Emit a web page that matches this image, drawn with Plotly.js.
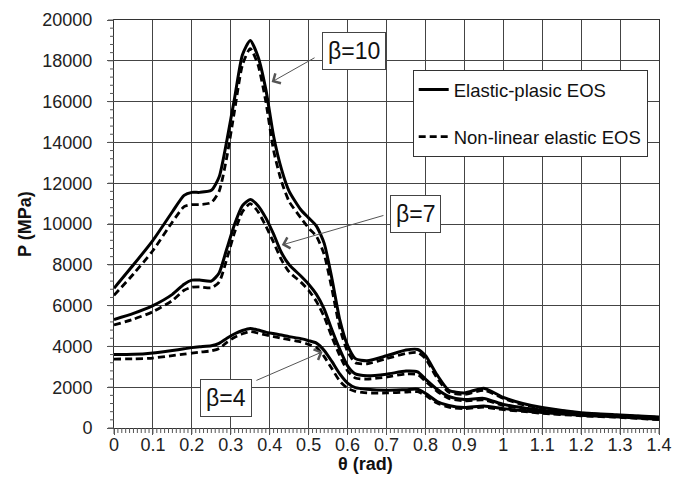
<!DOCTYPE html>
<html>
<head>
<meta charset="utf-8">
<script src="https://cdn.plot.ly/plotly-3.0.1.min.js"></script>
<style>html,body{margin:0;padding:0;background:#fff;}#chart{width:686px;height:482px;}</style>
</head>
<body>
<div id="chart"></div>
<script>
var theta = [0, 0.05, 0.1, 0.15, 0.18, 0.2, 0.22, 0.25, 0.27, 0.29, 0.31, 0.33, 0.35, 0.37, 0.39, 0.41, 0.43, 0.45, 0.48, 0.5, 0.52, 0.54, 0.56, 0.58, 0.6, 0.62, 0.65, 0.7, 0.75, 0.78, 0.8, 0.83, 0.86, 0.9, 0.95, 1.0, 1.05, 1.1, 1.2, 1.3, 1.4];

var b10Plastic = [6850, 8000, 9200, 10600, 11400, 11550, 11550, 11650, 12300, 14100, 16200, 18300, 19000, 18200, 16600, 14300, 12700, 11600, 10700, 10300, 9900, 9050, 7300, 5300, 4050, 3400, 3300, 3540, 3820, 3850, 3550, 2600, 1850, 1720, 1950, 1500, 1200, 1000, 750, 640, 540];
var b10Elastic = [6500, 7550, 8700, 10100, 10850, 10950, 10950, 11050, 11600, 13300, 15600, 17800, 18600, 17800, 16000, 13600, 12100, 11100, 10300, 9800, 9400, 8500, 6800, 4900, 3750, 3200, 3150, 3400, 3650, 3700, 3400, 2450, 1750, 1650, 1850, 1450, 1150, 970, 730, 620, 520];

var b7Plastic = [5320, 5620, 6000, 6550, 7050, 7250, 7250, 7200, 7600, 8800, 10000, 10900, 11200, 10900, 10300, 9500, 8600, 8000, 7450, 7050, 6550, 5830, 4800, 3850, 3050, 2650, 2560, 2640, 2790, 2750, 2400, 1900, 1550, 1400, 1450, 1160, 990, 870, 660, 580, 500];
var b7Elastic = [5050, 5330, 5700, 6250, 6750, 6900, 6920, 6870, 7150, 8300, 9600, 10600, 11000, 10600, 9900, 9100, 8250, 7650, 7150, 6750, 6200, 5450, 4450, 3550, 2800, 2450, 2400, 2500, 2650, 2620, 2300, 1800, 1450, 1330, 1380, 1100, 950, 830, 640, 560, 480];

var b4Plastic = [3600, 3610, 3680, 3800, 3880, 3940, 3980, 4030, 4150, 4400, 4620, 4780, 4880, 4800, 4700, 4630, 4560, 4480, 4380, 4280, 4160, 3800, 3250, 2650, 2200, 1980, 1900, 1850, 1880, 1900, 1700, 1300, 1100, 1000, 1080, 950, 850, 760, 620, 540, 430];
var b4Elastic = [3380, 3390, 3430, 3550, 3620, 3670, 3720, 3780, 3900, 4200, 4450, 4620, 4730, 4650, 4560, 4480, 4400, 4330, 4220, 4100, 3950, 3500, 2900, 2300, 1950, 1800, 1720, 1720, 1760, 1780, 1600, 1220, 1020, 950, 1020, 900, 810, 720, 600, 520, 410];

// axis tick positions (labels are the plain numbers: 0, 0.1 … 1.4 and 0, 2000 … 20000)
var xTicks = [0, 0.1, 0.2, 0.3, 0.4, 0.5, 0.6, 0.7, 0.8, 0.9, 1, 1.1, 1.2, 1.3, 1.4];
var yTicks = [0, 2000, 4000, 6000, 8000, 10000, 12000, 14000, 16000, 18000, 20000];
var xMinorPerMajor = 10;
var yMinorPerMajor = 5;

var legendNames = ['Elastic-plasic EOS', 'Non-linear elastic EOS'];
var labelText = ['\u03b2=10', '\u03b2=7', '\u03b2=4'];
// label box centers and arrows [boxTheta, boxP, tailTheta, tailP, tipTheta, tipP]
var labelPos = [
  [0.6165, 18500, 0.519, 18190, 0.405, 16960],
  [0.7757, 10470, 0.696, 10440, 0.431, 8970],
  [0.2882, 1470, 0.362, 2300, 0.536, 3740]
];

var FONT = '"Liberation Sans", Arial, sans-serif';
var PLOT_W = 545, PLOT_H = 408;

function solid(y, show) {
  return {x: theta, y: y, mode: 'lines', type: 'scatter', name: legendNames[0], legendgroup: 'a', showlegend: show,
    line: {color: '#000', width: 3, shape: 'spline', smoothing: 0.6}, hoverinfo: 'skip'};
}
function dashed(y, show) {
  return {x: theta, y: y, mode: 'lines', type: 'scatter', name: legendNames[1], legendgroup: 'b', showlegend: show,
    line: {color: '#000', width: 2.8, dash: '7px,4px', shape: 'spline', smoothing: 0.6}, hoverinfo: 'skip'};
}

var data = [
  solid(b10Plastic, true), solid(b7Plastic, false), solid(b4Plastic, false),
  dashed(b10Elastic, true), dashed(b7Elastic, false), dashed(b4Elastic, false)
];

// tick marks along the axes (minor + major), as unclipped paper-referenced segments
var xMin = xTicks[0], xMax = xTicks[xTicks.length - 1];
var yMin = yTicks[0], yMax = yTicks[yTicks.length - 1];
var shapes = [];
var nx = (xTicks.length - 1) * xMinorPerMajor;
for (var k = 0; k <= nx; k++) {
  var xp = k / nx;
  var len = (k % xMinorPerMajor === 0) ? 6 : 5;
  shapes.push({type: 'line', xref: 'paper', yref: 'paper', x0: xp, x1: xp, y0: 0, y1: -len / PLOT_H,
    line: {color: '#555', width: 1}});
}
var ny = (yTicks.length - 1) * yMinorPerMajor;
for (var m = 0; m <= ny; m++) {
  var yp = m / ny;
  var ylen = (m % yMinorPerMajor === 0) ? 6 : 4;
  shapes.push({type: 'line', xref: 'paper', yref: 'paper', x0: -ylen / PLOT_W, x1: 0, y0: yp, y1: yp,
    line: {color: '#555', width: 1}});
}

var annotations = [];
for (var i = 0; i < labelText.length; i++) {
  var p = labelPos[i];
  annotations.push({x: p[4], y: p[5], ax: p[2], ay: p[3], axref: 'x', ayref: 'y', xref: 'x', yref: 'y',
    text: '', showarrow: true, arrowhead: 4, arrowsize: 2.2, arrowwidth: 1, arrowcolor: '#555'});
  annotations.push({x: p[0], y: p[1], xref: 'x', yref: 'y', text: labelText[i], showarrow: false,
    font: {family: FONT, size: 23, color: '#111'}, bgcolor: '#fff', bordercolor: '#444', borderwidth: 1,
    borderpad: 5});
}
annotations.push({xref: 'paper', yref: 'paper', x: (365 - 114) / PLOT_W, y: (428 - 464) / PLOT_H, text: '<b>\u03b8 (rad)</b>',
  showarrow: false, font: {family: FONT, size: 18, color: '#111'}, xanchor: 'center', yanchor: 'middle'});
annotations.push({xref: 'paper', yref: 'paper', x: (25 - 114) / PLOT_W, y: (428 - 224) / PLOT_H, text: '<b>P (MPa)</b>',
  showarrow: false, textangle: -90, font: {family: FONT, size: 18, color: '#111'}, xanchor: 'center', yanchor: 'middle'});

var layout = {
  width: 686, height: 482,
  margin: {l: 114, r: 27, t: 20, b: 54},
  paper_bgcolor: '#fff', plot_bgcolor: '#fff',
  font: {family: FONT, size: 18, color: '#222'},
  showlegend: true,
  legend: {x: (412.7 - 114) / PLOT_W, y: (428 - 70) / PLOT_H, xanchor: 'left', yanchor: 'top',
    bgcolor: '#fff', bordercolor: '#333', borderwidth: 1, font: {family: FONT, size: 18.5, color: '#111'},
    traceorder: 'grouped', tracegroupgap: 20},
  xaxis: {range: [xMin, xMax], tickmode: 'linear', tick0: xTicks[0], dtick: xTicks[1] - xTicks[0],
    tickformat: '~g', showgrid: true, gridcolor: '#444', gridwidth: 1,
    zeroline: false, showline: true, linecolor: '#333', linewidth: 1, mirror: true,
    ticks: 'outside', ticklen: 6, tickcolor: '#555', ticklabelstandoff: -6, tickfont: {family: FONT, size: 18, color: '#222'}},
  yaxis: {range: [yMin, yMax], tickmode: 'linear', tick0: yTicks[0], dtick: yTicks[1] - yTicks[0],
    tickformat: 'd', showgrid: true, gridcolor: '#444', gridwidth: 1,
    zeroline: false, showline: true, linecolor: '#333', linewidth: 1, mirror: true,
    ticks: 'outside', ticklen: 6, tickcolor: '#555', ticklabelstandoff: 11, tickfont: {family: FONT, size: 18, color: '#222'}},
  shapes: shapes,
  annotations: annotations
};

Plotly.newPlot('chart', data, layout, {staticPlot: true, displayModeBar: false});
</script>
</body>
</html>
